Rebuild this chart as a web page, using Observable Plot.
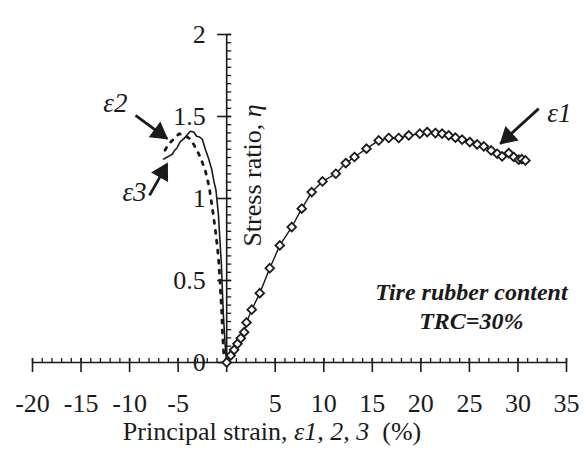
<!DOCTYPE html>
<html><head><meta charset="utf-8">
<script src="https://cdn.jsdelivr.net/npm/d3@7"></script>
<script src="https://cdn.jsdelivr.net/npm/@observablehq/plot@0.6"></script>
<style>
body{margin:0;background:#fff}
#chart svg, #chart svg text{font-family:"Liberation Serif","Times New Roman",serif !important;}
</style>
</head><body><div id="chart"></div>
<script>
// ---- data ----
const e1X = [0,0.42,0.77,1.11,1.45,1.80,2.04,2.58,3.41,4.44,5.47,6.70,7.73,8.76,9.87,11.24,12.27,13.16,14.40,15.66,16.69,17.72,18.75,19.89,20.65,21.50,22.19,22.87,23.56,24.25,25.04,25.80,26.48,27.24,27.86,28.37,29.05,29.57,30.08,30.40,30.77];
const e1Y = [0,0.043,0.077,0.114,0.148,0.185,0.244,0.322,0.423,0.575,0.714,0.826,0.938,1.039,1.104,1.151,1.216,1.253,1.304,1.354,1.369,1.369,1.385,1.395,1.405,1.399,1.395,1.385,1.371,1.359,1.344,1.330,1.318,1.293,1.273,1.257,1.277,1.253,1.237,1.240,1.232];
// epsilon 2 (dotted)
const e2X = [0,-0.3,-0.45,-0.5,-0.6,-0.7,-0.8,-0.95,-1.15,-1.45,-1.8,-2.2,-2.7,-3.2,-3.7,-4.2,-4.9,-5.5,-6.0,-6.5];
const e2Y = [0,0.05,0.2,0.3,0.4,0.5,0.6,0.7,0.8,0.93,1.07,1.17,1.25,1.31,1.36,1.38,1.395,1.36,1.33,1.28];
// epsilon 3 (solid)
const e3X = [0,-0.15,-0.25,-0.35,-0.45,-0.55,-0.7,-0.85,-1.1,-1.3,-1.55,-1.9,-2.2,-2.5,-2.8,-3.1,-3.4,-3.75,-4.1,-4.4,-4.8,-5.1,-5.4,-5.6,-5.9,-6.2,-6.5];
const e3Y = [0,0.1,0.2,0.3,0.45,0.6,0.75,0.9,1.05,1.1,1.18,1.25,1.3,1.36,1.375,1.38,1.405,1.41,1.385,1.365,1.345,1.31,1.29,1.27,1.26,1.25,1.24];

const xMajorTicks = [-20,-15,-10,-5,0,5,10,15,20,25,30,35];
const xTickLabels = ["-20","-15","-10","-5","","5","10","15","20","25","30","35"];
const yMajorTicks = [0,0.5,1,1.5,2];
const yTickLabels = ["0","0.5","1","1.5","2"];
const xMinorTicks = d3.range(-20,35.001,1);
const yMinorTicks = d3.range(0,2.0001,0.05);

const xTitle = "Principal strain, ε1, 2, 3 (%)";
const yTitle = "Stress ratio, η";
const noteLines = ["Tire rubber content","TRC=30%"];
const seriesLabels = ["ε1","ε2","ε3"];

// ---- layout ----
const W=587,H=450,mL=32,mR=21,mT=34,mB=88;
const kx=(W-mL-mR)/55, ky=(H-mT-mB)/2;
const serif = "'Liberation Serif', 'Times New Roman', serif";
const fs = 26;

const toRows = (xs,ys)=>xs.map((x,i)=>({x,y:ys[i]}));
const e1 = toRows(e1X,e1Y), e2 = toRows(e2X,e2Y), e3 = toRows(e3X,e3Y);

const ink = "#1a1a1a";
const arrows = [
  {x1:32.14,y1:1.548,x2:28.17,y2:1.334,hx:28.96,hy:1.375,rot:227.6},
  {x1:-9.39,y1:1.507,x2:-6.13,y2:1.365,hx:-6.96,hy:1.401,rot:126.3},
  {x1:-7.95,y1:1.019,x2:-6.13,y2:1.208,hx:-6.63,hy:1.159,rot:29.2}
];
const labelPos = [{x:34.27,y:1.518},{x:-11.46,y:1.579},{x:-9.5,y:1.037}];

const plot = Plot.plot({
  width:W, height:H, marginLeft:mL, marginRight:mR, marginTop:mT, marginBottom:mB,
  style:{fontFamily:serif, fontSize:fs+"px", background:"white", color:ink},
  x:{domain:[-20,35], axis:null},
  y:{domain:[0,2], axis:null},
  marks:[
    // axes
    Plot.ruleY([0],{x1:-20,x2:35,stroke:ink,strokeWidth:1.6}),
    Plot.ruleX([0],{y1:0,y2:2,stroke:ink,strokeWidth:1.6}),
    Plot.ruleX(xMajorTicks,{x:d=>d,y1:-10/ky,y2:4/ky,stroke:ink,strokeWidth:1.6}),
    Plot.ruleX(xMinorTicks,{x:d=>d,y1:0,y2:4/ky,stroke:ink,strokeWidth:1.3}),
    Plot.ruleY(yMajorTicks,{y:d=>d,x1:-9/kx,x2:5/kx,stroke:ink,strokeWidth:1.6}),
    Plot.ruleY(yMinorTicks,{y:d=>d,x1:0,x2:5/kx,stroke:ink,strokeWidth:1.3}),
    Plot.text(xMajorTicks,{x:d=>d,y:0,text:(d,i)=>xTickLabels[i],dy:41,fill:ink,fontFamily:serif,fontSize:fs}),
    Plot.text(yMajorTicks,{x:0,y:d=>d,text:(d,i)=>yTickLabels[i],dx:-21,textAnchor:"end",fill:ink,fontFamily:serif,fontSize:fs}),
    Plot.text([xTitle],{x:4.67,y:-0.42,text:d=>d,fill:ink,fontFamily:serif,fontSize:fs}),
    Plot.text([yTitle],{x:2.66,y:1.14,text:d=>d,rotate:-90,fill:ink,fontFamily:serif,fontSize:fs}),
    // series
    Plot.line(e3,{x:"x",y:"y",stroke:ink,strokeWidth:1.6}),
    Plot.line(e2,{x:"x",y:"y",stroke:ink,strokeWidth:2.8,strokeDasharray:"3,7"}),
    Plot.line(e1,{x:"x",y:"y",stroke:ink,strokeWidth:1.4}),
    Plot.dot(e1,{x:"x",y:"y",symbol:"diamond2",r:3.9,fill:"white",stroke:ink,strokeWidth:1.8}),
    // arrows
    Plot.link(arrows,{x1:"x1",y1:"y1",x2:"x2",y2:"y2",stroke:ink,strokeWidth:2.8}),
    Plot.dot(arrows,{x:"hx",y:"hy",symbol:"triangle",r:6.6,fill:ink,stroke:ink,strokeWidth:1,rotate:"rot"}),
    Plot.text(labelPos,{x:"x",y:"y",text:(d,i)=>seriesLabels[i],fontStyle:"italic",fontSize:27,fill:ink,fontFamily:serif}),
    // note
    Plot.text(noteLines,{x:25.2,y:(d,i)=>[0.43,0.25][i],text:d=>d,fontWeight:"bold",fontStyle:"italic",fontSize:24,fill:ink,fontFamily:serif})
  ]
});
document.getElementById("chart").appendChild(plot);

// italic parts of the axis titles
d3.select(plot).selectAll("text").filter(function(){return this.textContent===xTitle;}).each(function(){
  const t=d3.select(this); t.text(null).style("white-space","pre");
  t.append("tspan").text("Principal strain, ");
  t.append("tspan").attr("font-style","italic").text("ε1, 2, 3");
  t.append("tspan").text("  (%)");
});
d3.select(plot).selectAll("text").filter(function(){return this.textContent===yTitle;}).each(function(){
  const t=d3.select(this); t.text(null);
  t.append("tspan").text("Stress ratio, ");
  t.append("tspan").attr("font-style","italic").text("η");
});
</script></body></html>
